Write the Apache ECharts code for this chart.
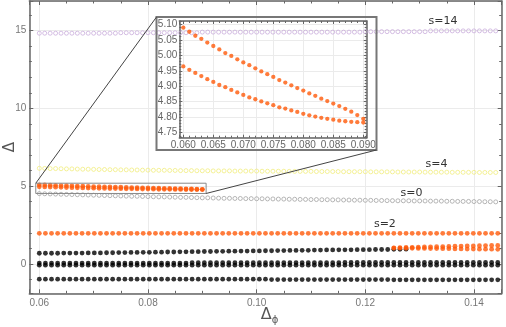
<!DOCTYPE html>
<html>
<head>
<meta charset="utf-8">
<script src="https://cdn.jsdelivr.net/npm/echarts@6/dist/echarts.min.js"></script>
<style>
  html, body { margin: 0; padding: 0; background: #fff; }
  #chart { width: 506px; height: 327px; }
</style>
</head>
<body>
<div id="chart"></div>
<script>
// x grids (Delta_phi)
const dphiFine = [
  0.060, 0.061, 0.062, 0.063, 0.064, 0.065, 0.066, 0.067, 0.068, 0.069,
  0.070, 0.071, 0.072, 0.073, 0.074, 0.075, 0.076, 0.077, 0.078, 0.079,
  0.080, 0.081, 0.082, 0.083, 0.084, 0.085, 0.086, 0.087, 0.088, 0.089,
  0.090, 0.091, 0.092, 0.093, 0.094, 0.095, 0.096, 0.097, 0.098, 0.099,
  0.100, 0.101, 0.102, 0.103, 0.104, 0.105, 0.106, 0.107, 0.108, 0.109,
  0.110, 0.111, 0.112, 0.113, 0.114, 0.115, 0.116, 0.117, 0.118, 0.119,
  0.120, 0.121, 0.122, 0.123, 0.124, 0.125, 0.126, 0.127, 0.128, 0.129,
  0.130, 0.131, 0.132, 0.133, 0.134, 0.135, 0.136, 0.137, 0.138, 0.139,
  0.140, 0.141, 0.142, 0.143, 0.144
]
const dphiCoarse = [
  0.060000, 0.061125, 0.062250, 0.063375, 0.064500, 0.065625, 0.066750, 0.067875, 0.069000, 0.070125,
  0.071250, 0.072375, 0.073500, 0.074625, 0.075750, 0.076875, 0.078000, 0.079125, 0.080250, 0.081375,
  0.082500, 0.083625, 0.084750, 0.085875, 0.087000, 0.088125, 0.089250, 0.090375, 0.091500, 0.092625,
  0.093750, 0.094875, 0.096000, 0.097125, 0.098250, 0.099375, 0.100500, 0.101625, 0.102750, 0.103875,
  0.105000, 0.106125, 0.107250, 0.108375, 0.109500, 0.110625, 0.111750, 0.112875, 0.114000, 0.115125,
  0.116250, 0.117375, 0.118500, 0.119625, 0.120750, 0.121875, 0.123000, 0.124125, 0.125250, 0.126375,
  0.127500, 0.128625, 0.129750, 0.130875, 0.132000, 0.133125, 0.134250, 0.135375, 0.136500, 0.137625,
  0.138750, 0.139875, 0.141000, 0.142125, 0.143250, 0.144375
]

// hollow series on dphiFine
const spin14 = [
  14.83, 14.83, 14.83, 14.83, 14.83, 14.83, 14.83, 14.83, 14.83, 14.83,
  14.83, 14.83, 14.83, 14.83, 14.83, 14.86, 14.86, 14.86, 14.86, 14.86,
  14.86, 14.86, 14.86, 14.86, 14.86, 14.86, 14.86, 14.86, 14.86, 14.86,
  14.90, 14.90, 14.90, 14.90, 14.90, 14.90, 14.90, 14.90, 14.90, 14.90,
  14.90, 14.90, 14.90, 14.90, 14.90, 14.90, 14.90, 14.90, 14.90, 14.90,
  14.90, 14.90, 14.90, 14.90, 14.90, 14.90, 14.90, 14.90, 14.90, 14.90,
  14.93, 14.93, 14.93, 14.93, 14.93, 14.93, 14.93, 14.93, 14.93, 14.93,
  14.93, 14.93, 14.98, 14.98, 14.98, 14.98, 14.98, 14.98, 14.98, 14.98,
  14.98, 14.98, 14.98, 14.98, 14.98
]
const spin4 = [
  6.15, 6.14, 6.13, 6.13, 6.12, 6.11, 6.11, 6.10, 6.09, 6.09,
  6.08, 6.07, 6.07, 6.06, 6.06, 6.05, 6.05, 6.04, 6.04, 6.03,
  6.03, 6.02, 6.02, 6.02, 6.01, 6.01, 6.00, 6.00, 6.00, 5.99,
  5.99, 5.99, 5.98, 5.98, 5.98, 5.98, 5.97, 5.97, 5.97, 5.97,
  5.97, 5.96, 5.96, 5.96, 5.96, 5.96, 5.95, 5.95, 5.95, 5.95,
  5.95, 5.94, 5.94, 5.94, 5.94, 5.94, 5.93, 5.93, 5.93, 5.93,
  5.93, 5.92, 5.92, 5.92, 5.92, 5.92, 5.91, 5.91, 5.91, 5.91,
  5.91, 5.90, 5.90, 5.90, 5.90, 5.90, 5.89, 5.89, 5.89, 5.89,
  5.89, 5.88, 5.88, 5.88, 5.88
]
const spin0 = [
  4.52, 4.51, 4.50, 4.49, 4.48, 4.47, 4.46, 4.45, 4.44, 4.43,
  4.42, 4.41, 4.40, 4.39, 4.38, 4.37, 4.36, 4.35, 4.35, 4.34,
  4.33, 4.32, 4.31, 4.31, 4.30, 4.29, 4.28, 4.28, 4.27, 4.26,
  4.25, 4.25, 4.24, 4.23, 4.22, 4.22, 4.21, 4.21, 4.20, 4.20,
  4.19, 4.19, 4.18, 4.18, 4.17, 4.17, 4.16, 4.16, 4.15, 4.15,
  4.14, 4.14, 4.13, 4.13, 4.12, 4.12, 4.11, 4.11, 4.10, 4.10,
  4.09, 4.09, 4.08, 4.08, 4.07, 4.07, 4.06, 4.06, 4.06, 4.05,
  4.05, 4.05, 4.04, 4.04, 4.04, 4.03, 4.03, 4.02, 4.02, 4.02,
  4.01, 4.01, 4.00, 4.00, 3.99
]

// zoomed branches, dphiFine 0.060 .. 0.090
const insetUpper = [
  5.089, 5.076, 5.063, 5.053, 5.041, 5.030, 5.019, 5.007, 4.998, 4.987,
  4.977, 4.968, 4.958, 4.948, 4.939, 4.930, 4.920, 4.912, 4.903, 4.894,
  4.886, 4.877, 4.869, 4.860, 4.852, 4.844, 4.836, 4.827, 4.818, 4.807,
  4.795
]
const insetLower = [
  4.964, 4.953, 4.943, 4.933, 4.923, 4.914, 4.904, 4.897, 4.888, 4.880,
  4.872, 4.864, 4.858, 4.851, 4.845, 4.839, 4.832, 4.828, 4.822, 4.817,
  4.811, 4.806, 4.802, 4.798, 4.795, 4.792, 4.789, 4.787, 4.785, 4.784,
  4.783
]

// filled series on dphiCoarse
const spin2 = [
  1.97, 1.97, 1.97, 1.97, 1.97, 1.97, 1.97, 1.97, 1.97, 1.97,
  1.97, 1.97, 1.97, 1.97, 1.97, 1.97, 1.97, 1.97, 1.97, 1.97,
  1.97, 1.97, 1.97, 1.97, 1.97, 1.97, 1.97, 1.97, 1.97, 1.97,
  1.97, 1.97, 1.97, 1.97, 1.97, 1.97, 1.97, 1.97, 1.97, 1.97,
  1.97, 1.97, 1.97, 1.97, 1.97, 1.97, 1.97, 1.97, 1.97, 1.97,
  1.97, 1.97, 1.97, 1.97, 1.97, 1.97, 1.97, 1.97, 1.97, 1.97,
  1.97, 1.97, 1.97, 1.97, 1.97, 1.97, 1.97, 1.97, 1.97, 1.97,
  1.97, 1.97, 1.97, 1.97, 1.97, 1.97
]
const blackTop = [
  0.69, 0.69, 0.69, 0.69, 0.70, 0.70, 0.70, 0.70, 0.71, 0.71,
  0.71, 0.72, 0.72, 0.73, 0.73, 0.74, 0.74, 0.75, 0.75, 0.76,
  0.76, 0.77, 0.77, 0.78, 0.78, 0.79, 0.79, 0.80, 0.80, 0.81,
  0.81, 0.82, 0.82, 0.83, 0.83, 0.84, 0.84, 0.85, 0.85, 0.86,
  0.86, 0.87, 0.87, 0.88, 0.88, 0.89, 0.89, 0.90, 0.90, 0.91,
  0.91, 0.91, 0.92, 0.92, 0.92, 0.93, 0.93, 0.93, 0.94, 0.94,
  0.95
]
const blackMidUp = [
  0.06, 0.06, 0.06, 0.06, 0.06, 0.06, 0.06, 0.06, 0.06, 0.06,
  0.06, 0.06, 0.06, 0.06, 0.06, 0.06, 0.06, 0.06, 0.06, 0.06,
  0.06, 0.06, 0.06, 0.06, 0.06, 0.08, 0.08, 0.08, 0.08, 0.08,
  0.08, 0.08, 0.08, 0.08, 0.08, 0.08, 0.08, 0.08, 0.08, 0.08,
  0.08, 0.08, 0.08, 0.08, 0.08, 0.08, 0.08, 0.08, 0.08, 0.08,
  0.10, 0.10, 0.10, 0.10, 0.10, 0.10, 0.10, 0.10, 0.10, 0.10,
  0.10, 0.10, 0.10, 0.10, 0.10, 0.10, 0.10, 0.10, 0.10, 0.10,
  0.10, 0.10, 0.10, 0.10, 0.10, 0.10
]
const blackMidDown = [
  -0.08, -0.08, -0.08, -0.08, -0.08, -0.08, -0.08, -0.08, -0.08, -0.08,
  -0.08, -0.08, -0.08, -0.08, -0.08, -0.08, -0.08, -0.08, -0.08, -0.08,
  -0.08, -0.08, -0.08, -0.08, -0.08, -0.08, -0.08, -0.08, -0.08, -0.08,
  -0.08, -0.08, -0.08, -0.08, -0.08, -0.08, -0.08, -0.08, -0.08, -0.08,
  -0.08, -0.08, -0.08, -0.08, -0.08, -0.08, -0.08, -0.08, -0.08, -0.08,
  -0.08, -0.08, -0.08, -0.08, -0.08, -0.08, -0.08, -0.08, -0.08, -0.08,
  -0.08, -0.08, -0.08, -0.08, -0.08, -0.08, -0.08, -0.08, -0.08, -0.08,
  -0.08, -0.08, -0.08, -0.08, -0.08, -0.08
]
const blackLow = [
  -0.98, -0.98, -0.98, -0.98, -0.98, -0.98, -0.98, -0.98, -0.98, -0.98,
  -0.98, -0.98, -0.98, -0.98, -0.98, -0.98, -0.98, -0.98, -0.98, -0.98,
  -0.98, -0.98, -0.98, -0.98, -0.98, -0.98, -0.98, -0.98, -0.98, -0.98,
  -0.98, -0.98, -0.98, -0.98, -0.98, -0.98, -0.98, -0.98, -1.00, -1.00,
  -1.00, -1.00, -1.00, -1.00, -1.00, -1.00, -1.00, -1.00, -1.00, -1.00,
  -1.00, -1.00, -1.00, -1.00, -1.00, -1.00, -1.00, -1.00, -1.02, -1.02,
  -1.02, -1.02, -1.02, -1.02, -1.02, -1.02, -1.02, -1.02, -1.02, -1.02,
  -1.02, -1.02, -1.02, -1.02, -1.02, -1.02
]
// orange pair near 1, starting at dphiCoarse[58]
const orangeStart = 58
const orangeUp = [1.04, 1.05, 1.06, 1.07, 1.08, 1.09, 1.10, 1.11, 1.12, 1.13, 1.14, 1.15, 1.16, 1.16, 1.17, 1.18, 1.19, 1.19]
const orangeDown = [1.02, 1.02, 1.01, 1.01, 1.00, 1.00, 0.99, 0.99, 0.98, 0.98, 0.97, 0.97, 0.96, 0.96, 0.95, 0.95, 0.95, 0.94]

// zoom window in main plot, and tag texts
const zoomBoxX = [0.05935, 0.0907]
const zoomBoxY = [4.53, 5.19]
const tags = ['s=14', 's=4', 's=0', 's=2']

// layout
const tagAt = [[0.1343, 15.58], [0.1331, 6.43], [0.1285, 4.58], [0.1236, 2.57]]
const insetBox = { x: 156.5, y: 17, width: 220, height: 133 }
const TICK_FONT = 'Liberation Sans, Arial, sans-serif'
const ORANGE = '#ff5a0a'

function pairs(xs, ys, offset = 0) {
  return ys.map((y, i) => [xs[i + offset], y])
}
function near(v, step) {
  return Math.abs(v / step - Math.round(v / step)) < 1e-6
}

const frameLine = { show: true, onZero: false, lineStyle: { color: '#666', width: 1.5 } }

function axis(o) {
  const isMain = o.gridIndex === 0
  return Object.assign({
    type: 'value',
    gridIndex: o.gridIndex,
    axisLine: frameLine,
    axisTick: { inside: true, length: isMain ? 4 : 3, lineStyle: { color: '#666' } },
    minorTick: { show: true, splitNumber: o.minor, length: isMain ? 2.5 : 2, lineStyle: { color: '#666' } },
    splitLine: { show: !o.mirror, lineStyle: { color: '#ebebeb', width: 1 } },
    axisLabel: o.mirror ? { show: false } : {
      fontSize: 10, color: o.labelColor || '#777', fontFamily: TICK_FONT, margin: o.margin,
      formatter: o.fmt
    }
  }, o.range, o.extra || {})
}

const mainX = { min: 0.05816, max: 0.1451, splitNumber: 4 }
const mainY = { min: -1.885, max: 16.9, splitNumber: 4 }
const inX = { min: 0.05933, max: 0.09057, splitNumber: 6 }
const inY = { min: 4.7339, max: 5.1107, splitNumber: 7 }

const fmtMainX = v => near(v, 0.02) ? v.toFixed(2) : ''
const fmtMainY = v => near(v, 5) ? String(Math.round(v)) : ''
const fmtInX = v => near(v, 0.005) ? v.toFixed(3) : ''
const fmtInY = v => near(v, 0.05) ? v.toFixed(2) : ''

const xAxes = [
  axis({ gridIndex: 0, range: mainX, minor: 4, margin: 5, fmt: fmtMainX, extra: {
    position: 'bottom',
    name: '{d|Δ}{p|ϕ}', nameLocation: 'middle', nameGap: 12, nameMoveOverlap: false,
    nameTextStyle: {
      rich: {
        d: { fontSize: 16, color: '#555', fontFamily: 'DejaVu Sans', lineHeight: 20, padding: [0, 0, 0, 8] },
        p: { fontSize: 10, color: '#555', fontFamily: 'DejaVu Sans', lineHeight: 10, verticalAlign: 'bottom' }
      }
    }
  } }),
  axis({ gridIndex: 0, range: mainX, minor: 4, mirror: true, extra: { position: 'top' } }),
  axis({ gridIndex: 1, range: inX, minor: 5, margin: 3, fmt: fmtInX, labelColor: '#666', extra: { position: 'bottom' } }),
  axis({ gridIndex: 1, range: inX, minor: 5, mirror: true, extra: { position: 'top' } })
]

const yAxes = [
  axis({ gridIndex: 0, range: mainY, minor: 5, margin: 3, fmt: fmtMainY, extra: {
    position: 'left',
    name: 'Δ', nameLocation: 'middle', nameRotate: 90, nameGap: 12, nameMoveOverlap: false,
    nameTextStyle: { fontSize: 15, color: '#555', fontFamily: 'DejaVu Sans' }
  } }),
  axis({ gridIndex: 0, range: mainY, minor: 5, mirror: true, extra: { position: 'right' } }),
  axis({ gridIndex: 1, range: inY, minor: 5, margin: 2, fmt: fmtInY, labelColor: '#666', extra: { position: 'left' } }),
  axis({ gridIndex: 1, range: inY, minor: 5, mirror: true, extra: { position: 'right' } })
]

function hollow(name, xs, ys, stroke) {
  return {
    name, type: 'scatter', xAxisIndex: 0, yAxisIndex: 0,
    data: pairs(xs, ys), symbol: 'circle', symbolSize: 4,
    itemStyle: { color: 'rgba(255,255,255,0)', borderColor: stroke, borderWidth: 0.9 },
    silent: true, z: 3
  }
}
function filled(name, data, color, inset) {
  return {
    name, type: 'scatter',
    xAxisIndex: inset ? 2 : 0, yAxisIndex: inset ? 2 : 0,
    data, symbol: 'circle', symbolSize: inset ? 4.3 : 4.8,
    itemStyle: { color },
    silent: true, z: color === '#000' ? 3 : 4
  }
}

const zoomFrame = [
  [zoomBoxX[0], zoomBoxY[0]], [zoomBoxX[1], zoomBoxY[0]],
  [zoomBoxX[1], zoomBoxY[1]], [zoomBoxX[0], zoomBoxY[1]],
  [zoomBoxX[0], zoomBoxY[0]]
]

const chart = echarts.init(document.getElementById('chart'), null, { renderer: 'canvas' })

chart.setOption({
  animation: false,
  backgroundColor: '#fff',
  grid: [
    { left: 29.3, right: 4.3, top: 1, bottom: 33.7, containLabel: false, outerBoundsMode: 'none' },
    { left: 179.3, top: 21, width: 187.4, height: 116.7, containLabel: false, outerBoundsMode: 'none' }
  ],
  xAxis: xAxes,
  yAxis: yAxes,
  series: [
    hollow('s=14', dphiFine, spin14, '#c4a6d8'),
    hollow('s=4', dphiFine, spin4, '#efeb72'),
    hollow('s=0', dphiFine, spin0, '#9a9a9a'),
    filled('low', pairs(dphiCoarse, blackLow), '#000'),
    filled('midDown', pairs(dphiCoarse, blackMidDown), '#000'),
    filled('midUp', pairs(dphiCoarse, blackMidUp), '#000'),
    filled('top', pairs(dphiCoarse, blackTop), '#000'),
    filled('s=2', pairs(dphiCoarse, spin2), ORANGE),
    filled('orangeDown', pairs(dphiCoarse, orangeDown, orangeStart), ORANGE),
    filled('orangeUp', pairs(dphiCoarse, orangeUp, orangeStart), ORANGE),
    filled('upper', pairs(dphiFine, insetUpper), ORANGE),
    filled('lower', pairs(dphiFine, insetLower), ORANGE),
    filled('upperZoom', pairs(dphiFine, insetUpper), ORANGE, true),
    filled('lowerZoom', pairs(dphiFine, insetLower), ORANGE, true),
    {
      name: 'zoom', type: 'line', xAxisIndex: 0, yAxisIndex: 0,
      data: zoomFrame, symbol: 'none', silent: true, z: 5,
      lineStyle: { color: '#888', width: 1 }
    }
  ]
})

// inset frame, connector lines and spin tags
const toPx = p => chart.convertToPixel({ xAxisIndex: 0, yAxisIndex: 0 }, p)
const cornerA = toPx([zoomBoxX[0], zoomBoxY[1]])
const cornerB = toPx([zoomBoxX[1], zoomBoxY[0]])

const graphic = [
  {
    type: 'rect', silent: true, z: 10,
    shape: { x: insetBox.x, y: insetBox.y, width: insetBox.width, height: insetBox.height },
    style: { fill: 'none', stroke: '#777', lineWidth: 2 }
  },
  {
    type: 'line', silent: true, z: 10,
    shape: { x1: cornerA[0], y1: cornerA[1], x2: insetBox.x, y2: insetBox.y },
    style: { stroke: '#444', lineWidth: 1 }
  },
  {
    type: 'line', silent: true, z: 10,
    shape: { x1: cornerB[0], y1: cornerB[1], x2: insetBox.x + insetBox.width, y2: insetBox.y + insetBox.height },
    style: { stroke: '#444', lineWidth: 1 }
  }
]
tags.forEach((t, i) => {
  const p = toPx(tagAt[i])
  graphic.push({
    type: 'text', silent: true, z: 10, x: p[0], y: p[1],
    style: { text: t, fill: '#333', fontSize: 11, fontFamily: 'DejaVu Sans', align: 'center', verticalAlign: 'middle' }
  })
})
chart.setOption({ graphic })
</script>
</body>
</html>
